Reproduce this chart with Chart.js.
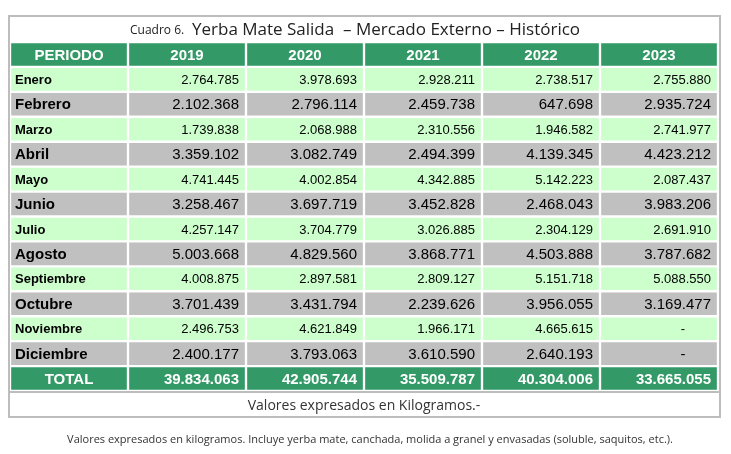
<!DOCTYPE html>
<html><head><meta charset="utf-8">
<script src="https://cdn.jsdelivr.net/npm/chart.js@4/dist/chart.umd.min.js"></script>
<style>html,body{margin:0;padding:0;background:#fff}#w{width:731px;height:454px}</style>
</head><body><div id="w"><canvas id="c"></canvas></div>
<script>
const years = ["2019","2020","2021","2022","2023"];
const months = ["Enero","Febrero","Marzo","Abril","Mayo","Junio","Julio","Agosto","Septiembre","Octubre","Noviembre","Diciembre"];
const v2019 = [2764785,2102368,1739838,3359102,4741445,3258467,4257147,5003668,4008875,3701439,2496753,2400177];
const v2020 = [3978693,2796114,2068988,3082749,4002854,3697719,3704779,4829560,2897581,3431794,4621849,3793063];
const v2021 = [2928211,2459738,2310556,2494399,4342885,3452828,3026885,3868771,2809127,2239626,1966171,3610590];
const v2022 = [2738517,647698,1946582,4139345,5142223,2468043,2304129,4503888,5151718,3956055,4665615,2640193];
const v2023 = [2755880,2935724,2741977,4423212,2087437,3983206,2691910,3787682,5088550,3169477,null,null];
const totals = [39834063,42905744,35509787,40304006,33665055];
const series = [v2019,v2020,v2021,v2022,v2023];
const rows = ["PERIODO", ...months, "TOTAL"];

const fmt = n => n==null ? "-" : n.toString().replace(/\B(?=(\d{3})+(?!\d))/g, ".");
const rowColor = i => (i===0||i===rows.length-1) ? "#339966" : (i%2===1 ? "#ccffcc" : "#c0c0c0");

const datasets = [];
for (let c=0;c<6;c++){
  datasets.push({data: rows.map(()=>[c,c+1]), backgroundColor: rows.map((r,i)=>rowColor(i)),
    borderColor:"#ffffff", borderWidth:1.5, borderSkipped:false, grouped:false, barPercentage:1, categoryPercentage:1});
}

const textPlugin = {id:"txt", afterDatasetsDraw(ch){
  const ctx=ch.ctx, xs=ch.scales.x, ys=ch.scales.y;
  ctx.save();
  ctx.strokeStyle="#bdbdbd"; ctx.lineWidth=2;
  ctx.strokeRect(9,16,711,401);
  ctx.beginPath(); ctx.moveTo(9,392); ctx.lineTo(720,392); ctx.stroke();
  ctx.fillStyle="#222"; ctx.textBaseline="middle";
  ctx.textAlign="left";
  ctx.font="12px 'Open Sans'"; ctx.fillText("Cuadro 6.",130,31);
  ctx.font="17px 'Open Sans'"; ctx.fillText("Yerba Mate Salida  – Mercado Externo – Histórico",192,30);
  ctx.textAlign="center"; ctx.font="14px 'Open Sans'"; ctx.fillStyle="#333";
  ctx.fillText("Valores expresados en Kilogramos.-",364,406);
  ctx.font="11px 'Open Sans'";
  ctx.fillText("Valores expresados en kilogramos. Incluye yerba mate, canchada, molida a granel y envasadas (soluble, saquitos, etc.).",370,440);
  rows.forEach((r,i)=>{
    const y=ys.getPixelForValue(i)+1;
    const head=i===0, tot=i===rows.length-1;
    if(head){
      ctx.fillStyle="#fff"; ctx.font="bold 15px 'Liberation Sans'"; ctx.textAlign="center";
      ctx.fillText(r,(xs.getPixelForValue(0)+xs.getPixelForValue(1))/2,y);
      years.forEach((yr,c)=>ctx.fillText(yr,(xs.getPixelForValue(c+1)+xs.getPixelForValue(c+2))/2,y));
      return;
    }
    const big = i%2===0;
    ctx.fillStyle = tot?"#fff":"#000";
    ctx.textAlign = tot?"center":"left";
    ctx.font = tot?"bold 15px 'Liberation Sans'":("bold "+(big?15:13)+"px 'Liberation Sans'");
    ctx.fillText(r, tot?(xs.getPixelForValue(0)+xs.getPixelForValue(1))/2:xs.getPixelForValue(0)+5, y);
    ctx.font = tot?"bold 15px 'Liberation Sans'":((big?15:13)+"px 'Liberation Sans'");
    for(let c=0;c<5;c++){
      const v = tot?totals[c]:series[c][i-1];
      if(v==null){ctx.textAlign="center";ctx.fillText("-",(xs.getPixelForValue(c+1)+xs.getPixelForValue(c+2))/2+24,y);}
      else {ctx.textAlign="right";ctx.fillText(fmt(v),xs.getPixelForValue(c+2)-7,y);}
    }
  });
  ctx.restore();
}};

new Chart(document.getElementById("c"),{
  type:"bar",
  data:{labels:rows,datasets},
  options:{indexAxis:"y",responsive:true,maintainAspectRatio:false,animation:false,
    layout:{padding:{left:10,right:13,top:42,bottom:63}},
    plugins:{legend:{display:false},tooltip:{enabled:false}},
    scales:{x:{type:"linear",min:0,max:6,display:false},
            y:{type:"category",display:false,offset:true}}},
  plugins:[textPlugin]
});
</script></body></html>
